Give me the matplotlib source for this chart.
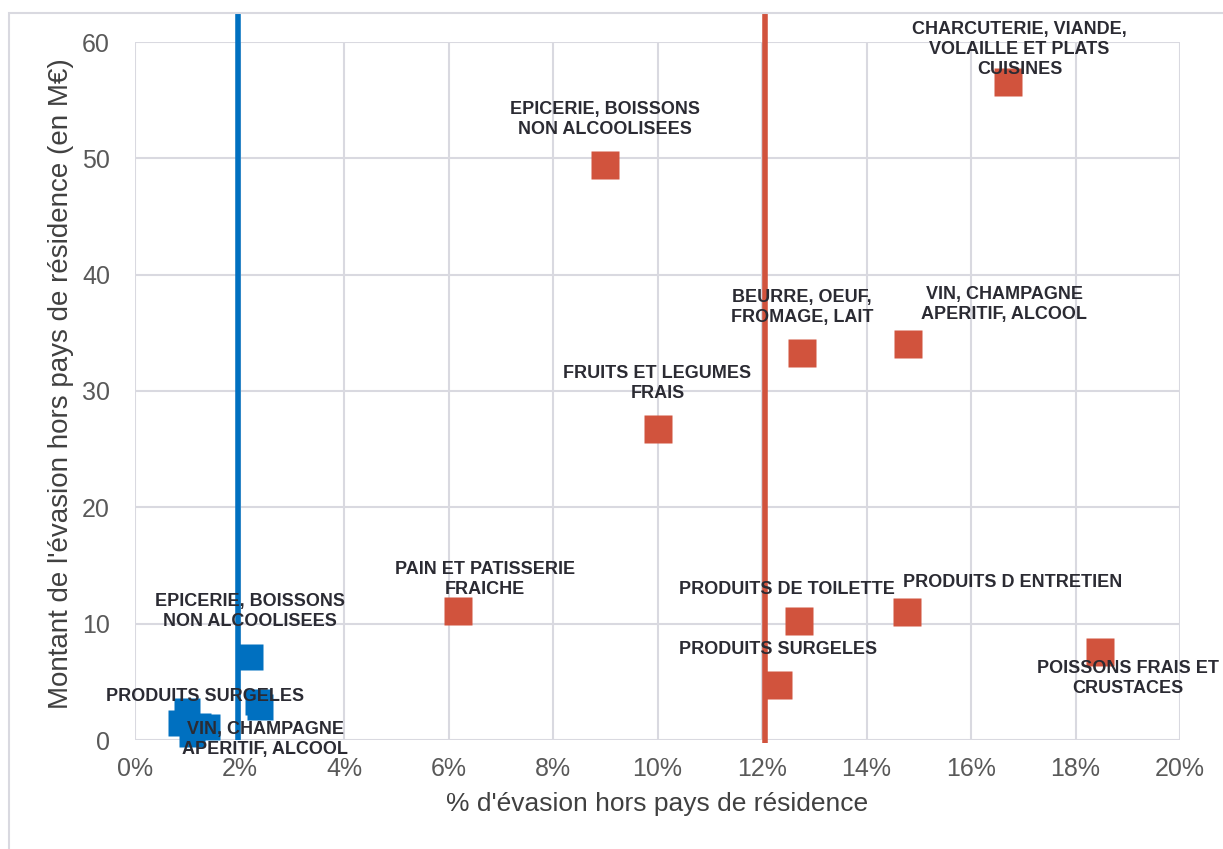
import matplotlib
matplotlib.use("Agg")
import matplotlib.pyplot as plt
from matplotlib.patches import Rectangle
from matplotlib.ticker import FuncFormatter

plt.rcParams['font.family'] = ['Liberation Sans', 'DejaVu Sans']

# series 1 (blue): lower group
blue_labels = ['EPICERIE, BOISSONS\nNON ALCOOLISEES', 'PRODUITS SURGELES', '',
               '', '', 'VIN, CHAMPAGNE\nAPERITIF, ALCOOL', '', '']
blue_pct = [0.022, 0.0235, 0.024, 0.010, 0.0088, 0.0138, 0.012, 0.011]
blue_amt = [7.1, 3.3, 2.8, 2.5, 1.5, 1.1, 1.2, 0.5]

# series 2 (red)
red_labels = ['CHARCUTERIE, VIANDE,\nVOLAILLE ET PLATS\nCUISINES',
              'EPICERIE, BOISSONS\nNON ALCOOLISEES',
              'BEURRE, OEUF,\nFROMAGE, LAIT',
              'VIN, CHAMPAGNE\nAPERITIF, ALCOOL',
              'FRUITS ET LEGUMES\nFRAIS',
              'PAIN ET PATISSERIE\nFRAICHE',
              'PRODUITS DE TOILETTE',
              'PRODUITS D ENTRETIEN',
              'PRODUITS SURGELES',
              'POISSONS FRAIS ET\nCRUSTACES']
red_pct = [0.167, 0.090, 0.1277, 0.148, 0.100, 0.0618, 0.127, 0.1478, 0.123, 0.1847]
red_amt = [56.6, 49.4, 33.3, 34.0, 26.7, 11.1, 10.2, 11.0, 4.7, 7.6]

# averages (vertical lines)
blue_avg = 0.0197
red_avg = 0.1206

# label offsets in pixels (dx, dy)
blue_off = [(0, 46), (-53, 5), (0, 0), (0, 0), (0, 0), (58, -12), (0, 0), (0, 0)]
red_off = [(12, 32), (0, 46), (0, 45), (96, 40), (0, 46), (27, 31), (-12, 32),
           (105, 30), (0, 36), (28, -27)]

BLUE = '#0070C0'
RED = '#D1533D'
GRID = '#d9d9e0'
TXT = '#2b2b33'
TICK = '#595959'
LAB = '#404040'

fig = plt.figure(figsize=(12.23, 8.49), dpi=100)
ax = fig.add_axes([135 / 1223, 1 - 740 / 849, 1045 / 1223, 698 / 849])

fig.patches.append(Rectangle((8.5 / 1223, -0.1), 1.2, 1.1 - 13 / 849, transform=fig.transFigure,
                             fill=False, edgecolor=GRID, lw=1.5, zorder=0))

ax.set_xlim(0, 0.20)
ax.set_ylim(0, 60)
ax.set_xticks([i / 100 for i in range(0, 21, 2)])
ax.set_yticks(range(0, 61, 10))
ax.xaxis.set_major_formatter(FuncFormatter(lambda v, p: f"{v * 100:.0f}%"))
ax.grid(True, color=GRID, lw=1.5)
ax.set_axisbelow(True)
for s in ax.spines.values():
    s.set_visible(False)
ax.tick_params(length=0, labelsize=18, labelcolor=TICK)
ax.tick_params(axis='x', pad=12)
ax.tick_params(axis='y', pad=18)

ax.set_xlabel("% d'évasion hors pays de résidence", fontsize=19, color=LAB, labelpad=8)
ax.set_ylabel("Montant de l'évasion hors pays de résidence (en M€)", fontsize=20, color=LAB,
              labelpad=8)
ax.yaxis.set_label_coords(-0.058, 0.51)

trans = ax.get_xaxis_transform()
ax.plot([blue_avg, blue_avg], [0, 1.041], color=BLUE, lw=4, transform=trans, clip_on=False,
        zorder=3, solid_capstyle='butt')
ax.plot([red_avg, red_avg], [-0.005, 1.041], color=RED, lw=4, transform=trans, clip_on=False,
        zorder=3, solid_capstyle='butt')

ax.plot(blue_pct, blue_amt, 's', color=BLUE, ms=19, mec='none', clip_on=False, zorder=4)
ax.plot(red_pct, red_amt, 's', color=RED, ms=20, mec='none', clip_on=False, zorder=4)

for lab, x, y, off in zip(blue_labels + red_labels, blue_pct + red_pct, blue_amt + red_amt,
                          blue_off + red_off):
    if lab:
        ax.annotate(lab, (x, y), xytext=off, textcoords='offset pixels', ha='center', va='center',
                    multialignment='center', fontsize=13, fontweight='bold', color=TXT,
                    zorder=5, annotation_clip=False, linespacing=1.22)

fig.savefig('out.png', dpi=100)
